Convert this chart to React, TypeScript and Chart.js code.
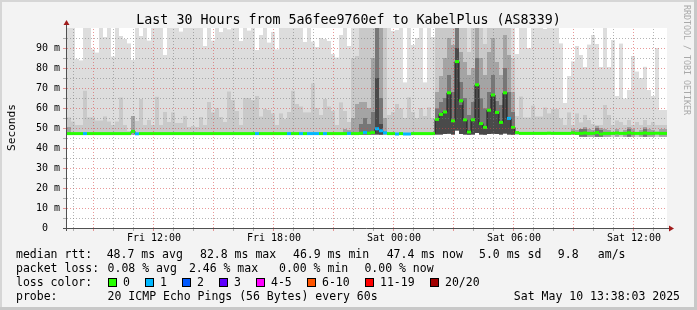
import React, { useEffect, useRef } from 'react';
import { Chart, registerables } from 'chart.js';

Chart.register(...registerables);

// ---------- time axis ----------
const START_HOUR = 7.7; // plot starts Fri 07:42 (hour of day)
const HOURS = 30;
const STEP = 0.2; // 12-minute consolidation step (150 steps)

const xTickHours = [4.3, 10.3, 16.3, 22.3, 28.3];
const xTickLabels = ['Fri 12:00', 'Fri 18:00', 'Sat 00:00', 'Sat 06:00', 'Sat 12:00'];

const yTickValues = [0, 10, 20, 30, 40, 50, 60, 70, 80, 90];
const yTickLabels = ['0', '10 m', '20 m', '30 m', '40 m', '50 m', '60 m', '70 m', '80 m', '90 m'];

// ---------- data (ms) ----------
// highest ping per step (outer, lightest smoke)
const pingMax = [
  100, 100, 84.5, 83.8, 100, 100, 89.3, 87.7, 100, 95.5,
  100, 85.7, 100, 96, 94.5, 92.3, 84, 100, 96, 100,
  93.7, 100, 100, 100, 86.5, 100, 100, 100, 98.2, 100,
  100, 100, 100, 100, 91, 100, 93.7, 100, 98, 100,
  99.3, 100, 100, 93.5, 100, 98.7, 100, 89, 96.5, 100,
  92.7, 98, 89.3, 100, 100, 100, 100, 100, 100, 93,
  100, 93.2, 90.5, 95, 94.5, 93.5, 87, 85.2, 96.5, 100,
  91, 100, 100, 100, 100, 100, 100, 100, 100, 100,
  100, 98.5, 99, 100, 72.8, 100, 91.5, 95, 100, 72.8,
  100, 95.5, 100, 100, 100, 100, 100, 100, 100, 100,
  100, 100, 100, 100, 100, 100, 100, 100, 100, 100,
  100, 100, 87, 100, 100, 90, 100, 100, 100, 99.5,
  100, 100, 100, 92.3, 62.5, 76, 83.3, 91, 86.5, 80.5,
  91.7, 96.5, 92, 80.5, 100, 80.5, 94, 66, 92.2, 64.7,
  69, 86, 78.2, 75, 80.6, 69, 66, 90, 59, 59,
];

// second smoke band
const smokeHigh = [
  55.3, 53.2, 51.5, 51.5, 68.6, 55.3, 55.3, 53.7, 53.7, 55.8,
  53.2, 51.5, 53.2, 65.2, 51.5, 48.5, 56, 53.5, 64.5, 51.5,
  54, 51.5, 65.6, 51.5, 58, 53, 57.8, 52.5, 52.5, 56,
  50.5, 51, 50.5, 55.5, 51.5, 63, 57.8, 60, 55.5, 53,
  68.2, 64, 58.5, 51.5, 65, 65, 64, 66, 55.7, 59.5,
  59, 57.3, 51.5, 57.3, 54.5, 58, 68.6, 62, 60.7, 57.8,
  57.8, 72.3, 60, 56.5, 64.5, 60.7, 58.5, 51.5, 62.8, 58.5,
  53, 85, 86, 100, 100, 100, 100, 100, 100, 100,
  56.5, 58, 62, 59.8, 55, 65.3, 58, 55, 60, 56,
  60.3, 55, 100, 100, 100, 100, 100, 100, 100, 100,
  88, 100, 100, 100, 92, 100, 100, 100, 100, 100,
  100, 85, 56, 65.7, 55.2, 55.2, 61.2, 55.7, 55.7, 60.2,
  57.3, 59.5, 59.5, 54.8, 51.5, 57.8, 51.5, 57.3, 52.8, 56.5,
  54, 52, 51.5, 51.5, 61.5, 56.5, 51.5, 53.8, 53, 51.5,
  54, 51.5, 53, 51.5, 54, 51.5, 53, 51.5, 51.5, 51.5,
];

const N = null;
// third smoke band
const smokeMid = [
  50.5, N, N, N, N, N, N, N, N, N,
  N, N, N, N, N, N, 56, N, N, N,
  N, N, N, N, N, N, N, N, N, N,
  N, N, N, N, N, N, N, N, N, N,
  N, N, N, N, N, N, N, N, N, N,
  N, N, N, N, N, N, N, N, N, N,
  N, N, N, N, N, N, N, N, N, 49.5,
  49, 55, 62, 63, 63, 60, 85, 100, 100, 55,
  N, N, N, N, N, N, N, N, N, N,
  N, N, 68, 76, 85, 95, 91.5, 100, 88, 83,
  76.5, 80, 100, 85, 76.5, 88, 95, 83, 76.5, 96.5,
  86.5, 68, N, N, N, N, N, N, N, N,
  N, N, N, N, N, N, 49.5, 49, N, 50.5,
  49.5, 49, 51, 50, 49.5, 49, N, 49.5, N, 49,
  50.5, 49.5, N, 49, 50.5, 49.5, 49, N, 49.5, 49.5,
];

// fourth smoke band
const smokeInner = [
  N, N, N, N, N, N, N, N, N, N,
  N, N, N, N, N, N, N, N, N, N,
  N, N, N, N, N, N, N, N, N, N,
  N, N, N, N, N, N, N, N, N, N,
  N, N, N, N, N, N, N, N, N, N,
  N, N, N, N, N, N, N, N, N, N,
  N, N, N, N, N, N, N, N, N, N,
  N, N, N, 52, 55, 52, 58, 100, 65, N,
  N, N, N, N, N, N, N, N, N, N,
  N, N, 59.8, 63, 65, 76.5, 68, 100, 73, 65,
  56.5, 63, 85, 64.8, 59.8, 68, 76.5, 63.5, 61.5, 80,
  68, 58, N, N, N, N, N, N, N, N,
  N, N, N, N, N, N, N, N, 49.5, 49.5,
  N, N, 50, 49, N, N, N, N, N, N,
  49.5, N, N, N, 49.5, N, N, N, N, N,
];

// innermost smoke band
const smokeCore = [
  N, N, N, N, N, N, N, N, N, N,
  N, N, N, N, N, N, N, N, N, N,
  N, N, N, N, N, N, N, N, N, N,
  N, N, N, N, N, N, N, N, N, N,
  N, N, N, N, N, N, N, N, N, N,
  N, N, N, N, N, N, N, N, N, N,
  N, N, N, N, N, N, N, N, N, N,
  N, N, N, N, N, N, N, 75, 52, N,
  N, N, N, N, N, N, N, N, N, N,
  N, N, 54, 57.5, 58.5, 67.5, 54, 90, 61.5, 53.5,
  49, 54, 71, 52.5, 50.7, 59, 67, 58, 53.5, 68,
  55, 50.7, N, N, N, N, N, N, N, N,
  N, N, N, N, N, N, N, N, N, N,
  N, N, N, N, N, N, N, N, N, N,
  N, N, N, N, N, N, N, N, N, N,
];

// lowest ping per step
const pingMin = [
  46.6, 46.6, 46.6, 46.6, 46.6, 46.6, 46.6, 46.6, 46.6, 46.6,
  46.6, 46.6, 46.6, 46.6, 46.6, 46.6, 46.6, 46.6, 46.6, 46.6,
  46.6, 46.6, 46.6, 46.6, 46.6, 46.6, 46.6, 46.6, 46.6, 46.6,
  46.6, 46.6, 46.6, 46.6, 46.6, 46.6, 46.6, 46.6, 46.6, 46.6,
  46.6, 46.6, 46.6, 46.6, 46.6, 46.6, 46.6, 46.6, 46.6, 46.6,
  46.6, 46.6, 46.6, 46.6, 46.6, 46.6, 46.6, 46.6, 46.6, 46.6,
  46.6, 46.6, 46.6, 46.6, 46.6, 46.6, 46.6, 46.6, 46.6, 46.6,
  46.6, 46.6, 46.6, 46.6, 46.6, 46.6, 46.6, 46.8, 46.7, 46.6,
  46.6, 46.6, 46.6, 46.6, 46.6, 46.6, 46.6, 46.6, 46.6, 46.6,
  46.6, 46.6, 46.8, 46.8, 47, 47.2, 46.8, 48.8, 47, 46.8,
  46.7, 46.8, 47.5, 46.8, 46.7, 47, 47.2, 47, 46.8, 47.3,
  46.8, 46.7, 46.6, 46.6, 46.6, 46.6, 46.6, 46.6, 46.6, 46.6,
  46.6, 46.6, 46.6, 46.6, 46.6, 46.6, 46.6, 46.6, 45.6, 45.6,
  45.6, 45.6, 45.6, 45.6, 45.6, 45.6, 45.6, 45.6, 45.6, 45.6,
  45.6, 45.6, 45.6, 45.6, 45.6, 45.6, 45.6, 45.6, 45.6, 45.6,
];

// median rtt per step
const medianRtt = [
  47.2, 47.2, 47.2, 47.2, 47.2, 47.2, 47.2, 47.2, 47.2, 47.2,
  47.2, 47.2, 47.2, 47.2, 47.2, 47.2, 48.3, 47.1, 47.2, 47.2,
  47.2, 47.2, 47.2, 47.2, 47.2, 47.2, 47.2, 47.2, 47.2, 47.2,
  47.2, 47.2, 47.2, 47.2, 47.2, 47.2, 47.2, 47.2, 47.2, 47.2,
  47.2, 47.2, 47.2, 47.2, 47.2, 47.2, 47.2, 47.2, 47.2, 47.2,
  47.2, 47.2, 47.2, 47.2, 47.2, 47.2, 47.2, 47.2, 47.2, 47.2,
  47.2, 47.2, 47.2, 47.2, 47.2, 47.2, 47.2, 47.2, 47.2, 47.2,
  47.3, 47.2, 47.2, 47.4, 47.8, 47.4, 47.8, 49.6, 48.6, 47.6,
  47.2, 47.2, 47.0, 47.2, 47.0, 47.0, 47.2, 47.2, 47.2, 47.2,
  47.2, 47.2, 54.3, 56.8, 58, 67.6, 53.6, 83.2, 63.6, 54.1,
  48, 54.1, 71.6, 52.2, 50.3, 58.9, 66.5, 57.8, 52.8, 67.6,
  54.8, 50.3, 47.7, 47.3, 47.3, 47.3, 47.3, 47.3, 47.3, 47.3,
  47.4, 47.3, 47.3, 47.3, 47.3, 47.3, 47.6, 47.3, 47.3, 47.5,
  47.3, 47.3, 47.7, 47.0, 47.3, 47.3, 47.3, 47.5, 47.3, 47.3,
  47.6, 47.3, 47.3, 47.3, 47.5, 47.3, 47.3, 47.4, 47.3, 47.3,
];

// lost pings (of 20) per step
const lossCount = [
  0, 0, 0, 0, 1, 0, 0, 0, 0, 0,
  0, 0, 0, 0, 0, 0, 0, 1, 0, 0,
  0, 0, 0, 0, 0, 0, 0, 0, 0, 0,
  0, 0, 0, 0, 0, 0, 0, 0, 0, 0,
  0, 0, 0, 0, 0, 0, 0, 1, 0, 0,
  0, 0, 0, 0, 0, 1, 0, 0, 1, 0,
  1, 1, 1, 0, 1, 0, 0, 0, 0, 0,
  1, 0, 0, 0, 1, 0, 0, 1, 1, 1,
  0, 0, 1, 0, 1, 1, 0, 0, 0, 0,
  0, 0, 0, 0, 0, 0, 0, 0, 0, 0,
  0, 0, 0, 0, 0, 0, 0, 0, 0, 0,
  1, 0, 0, 0, 0, 0, 0, 0, 0, 0,
  0, 0, 0, 0, 0, 0, 0, 0, 0, 0,
  0, 0, 0, 0, 0, 0, 0, 0, 0, 0,
  0, 0, 0, 0, 0, 0, 0, 0, 0, 0,
];

const LOSS_COLORS = ['#26ff00', '#00b8ff', '#0059ff', '#5e00ff', '#ff00ff', '#ff5500', '#ff0000', '#a10000'];
const LOSS_LABELS = ['0', '1', '2', '3', '4-5', '6-10', '11-19', '20/20'];

const TITLE = 'Last 30 Hours from 5a6fee9760ef to KabelPlus (AS8339)';
const rttStats = ['48.7 ms avg', '82.8 ms max', '46.9 ms min', '47.4 ms now', '5.0 ms sd', '9.8', 'am/s'];
const lossStats = ['0.08 % avg', '2.46 % max', '0.00 % min', '0.00 % now'];
const PROBE = '20 ICMP Echo Pings (56 Bytes) every 60s';
const STAMP = 'Sat May 10 13:38:03 2025';

// ---------- helpers ----------
const FAMILY = '"DejaVu Sans Mono", "Liberation Mono", monospace';
const font = (px: number) => `${px}px ${FAMILY}`;
const T = (i: number) => i * STEP + STEP / 2;
const lossIndex = (n: number) => (n <= 3 ? n : n <= 5 ? 4 : n <= 10 ? 5 : n <= 19 ? 6 : 7);

function band(top: (number | null)[]) {
  const out: { x: number; y: [number, number] }[] = [];
  top.forEach((v, i) => {
    if (v != null) out.push({ x: T(i), y: [pingMin[i], v] });
  });
  return out;
}

const GRID_MINOR = 'rgba(120,120,120,0.55)';
const GRID_MAJOR = 'rgba(215,70,70,0.55)';
const ARROW = '#a01c1c';

const decor = {
  id: 'smokeDecor',
  beforeDraw(chart: any) {
    const { ctx, chartArea: a, width, height } = chart;
    ctx.save();
    ctx.fillStyle = '#f3f3f3';
    ctx.fillRect(0, 0, width, height);
    ctx.fillStyle = '#d6d6d6';
    ctx.fillRect(0, 0, width, 2);
    ctx.fillRect(0, 0, 2, height);
    ctx.fillStyle = '#c8c8c8';
    ctx.fillRect(0, height - 3, width, 3);
    ctx.fillRect(width - 3, 0, 3, height);
    ctx.fillStyle = '#ffffff';
    ctx.fillRect(a.left, a.top, a.right - a.left, a.bottom - a.top);
    ctx.restore();
  },
  afterDatasetsDraw(chart: any) {
    const { ctx, chartArea: a } = chart;
    const xs = chart.scales.x;
    const ys = chart.scales.y;
    ctx.save();
    ctx.lineWidth = 1;
    // horizontal grid
    for (let v = 5; v < 100; v += 5) {
      const y = Math.round(ys.getPixelForValue(v)) + 0.5;
      const major = v % 10 === 0;
      ctx.strokeStyle = major ? GRID_MAJOR : GRID_MINOR;
      ctx.setLineDash([1, 2]);
      ctx.beginPath();
      ctx.moveTo(a.left, y);
      ctx.lineTo(a.right, y);
      ctx.stroke();
      ctx.setLineDash([]);
      ctx.beginPath();
      ctx.moveTo(63, y);
      ctx.lineTo(66, y);
      ctx.stroke();
    }
    // vertical grid (every hour, major every 3 hours)
    for (let t = Math.ceil(START_HOUR) - START_HOUR; t < HOURS; t += 1) {
      const hod = Math.round(START_HOUR + t) % 24;
      const major = hod % 3 === 0;
      const x = Math.round(xs.getPixelForValue(t)) + 0.5;
      ctx.strokeStyle = major ? GRID_MAJOR : GRID_MINOR;
      ctx.setLineDash([1, 2]);
      ctx.beginPath();
      ctx.moveTo(x, a.bottom);
      ctx.lineTo(x, a.top);
      ctx.stroke();
      ctx.setLineDash([]);
      ctx.beginPath();
      ctx.moveTo(x, a.bottom + 1);
      ctx.lineTo(x, a.bottom + 3);
      ctx.stroke();
    }
    // axes
    ctx.strokeStyle = '#505050';
    ctx.beginPath();
    ctx.moveTo(63, a.bottom + 0.5);
    ctx.lineTo(a.right + 3, a.bottom + 0.5);
    ctx.moveTo(a.left - 0.5, a.bottom + 3);
    ctx.lineTo(a.left - 0.5, a.top - 4);
    ctx.stroke();
    ctx.fillStyle = ARROW;
    ctx.beginPath();
    ctx.moveTo(a.right + 2, a.bottom - 2.5);
    ctx.lineTo(a.right + 7, a.bottom + 0.5);
    ctx.lineTo(a.right + 2, a.bottom + 3.5);
    ctx.closePath();
    ctx.fill();
    ctx.beginPath();
    ctx.moveTo(a.left - 3.5, a.top - 3);
    ctx.lineTo(a.left - 0.5, a.top - 8);
    ctx.lineTo(a.left + 2.5, a.top - 3);
    ctx.closePath();
    ctx.fill();
    ctx.restore();
  },
  afterDraw(chart: any) {
    const { ctx } = chart;
    const xs = chart.scales.x;
    const ys = chart.scales.y;
    ctx.save();
    ctx.fillStyle = '#000';
    // title
    ctx.font = font(13.3);
    ctx.textAlign = 'center';
    ctx.textBaseline = 'alphabetic';
    ctx.fillText(TITLE, 348.5, 24);
    // y tick labels
    ctx.font = font(10);
    ctx.textAlign = 'right';
    ctx.textBaseline = 'middle';
    yTickValues.forEach((v, k) => {
      const lab = yTickLabels[k];
      ctx.fillText(lab, lab.includes('m') ? 60 : 48, ys.getPixelForValue(v));
    });
    // x tick labels
    ctx.textAlign = 'center';
    ctx.textBaseline = 'alphabetic';
    xTickHours.forEach((h, k) => {
      ctx.fillText(xTickLabels[k], Math.round(xs.getPixelForValue(h)) + 1, 241);
    });
    // y axis title
    ctx.save();
    ctx.font = font(11.2);
    ctx.translate(15, 127.5);
    ctx.rotate(-Math.PI / 2);
    ctx.textAlign = 'center';
    ctx.fillText('Seconds', 0, 0);
    ctx.restore();
    // side watermark
    ctx.save();
    ctx.font = font(8.3);
    ctx.fillStyle = '#a9a9a9';
    ctx.translate(684, 5);
    ctx.rotate(Math.PI / 2);
    ctx.textAlign = 'left';
    ctx.fillText('RRDTOOL / TOBI OETIKER', 0, 0);
    ctx.restore();
    // legend
    ctx.font = font(11.5);
    ctx.textAlign = 'left';
    ctx.textBaseline = 'alphabetic';
    ctx.fillText('median rtt:', 16, 258);
    const rttX = [106.7, 200, 293, 386.7, 479, 557.8, 597.8];
    rttStats.forEach((s, k) => ctx.fillText(s, rttX[k], 258));
    ctx.fillText('packet loss:', 16, 272);
    const lossX = [107.6, 188.9, 279, 364.4];
    lossStats.forEach((s, k) => ctx.fillText(s, lossX[k], 272));
    ctx.fillText('loss color:', 16, 286);
    const boxX = [108, 145, 182, 219, 256, 307, 365, 430];
    LOSS_LABELS.forEach((lab, k) => {
      ctx.fillStyle = '#000';
      ctx.fillRect(boxX[k], 278, 9, 9);
      ctx.fillStyle = LOSS_COLORS[k];
      ctx.fillRect(boxX[k] + 1, 279, 7, 7);
      ctx.fillStyle = '#000';
      ctx.fillText(lab, boxX[k] + 15, 286);
    });
    ctx.fillText('probe:', 16, 300);
    ctx.fillText(PROBE, 107.6, 300);
    ctx.textAlign = 'right';
    ctx.fillText(STAMP, 680, 300);
    ctx.restore();
  },
};

export default function App() {
  const ref = useRef<HTMLCanvasElement | null>(null);

  useEffect(() => {
    document.body.style.margin = '0';
    const canvas = ref.current;
    if (!canvas) return;
    const common = {
      type: 'bar' as const,
      grouped: false,
      barThickness: 4,
      borderWidth: 0,
      inflateAmount: 0,
    };
    const chart = new Chart(canvas, {
      type: 'bar',
      data: {
        datasets: [
          {
            ...common,
            label: 'median',
            data: medianRtt.map((m, i) => ({ x: T(i), y: [m - 0.75, m + 0.75] })),
            backgroundColor: (c: any) => LOSS_COLORS[lossIndex(lossCount[c.dataIndex] ?? 0)],
            order: 0,
          },
          {
            type: 'line',
            label: 'median step',
            data: medianRtt.map((m, i) => ({ x: T(i), y: m })),
            stepped: 'middle',
            borderColor: '#1c1c1c',
            borderWidth: 1,
            pointRadius: 0,
            fill: false,
            order: 1,
          },
          { ...common, label: 'core', data: band(smokeCore), backgroundColor: '#4a4a4a', order: 2 },
          { ...common, label: 'inner', data: band(smokeInner), backgroundColor: '#767676', order: 3 },
          { ...common, label: 'mid', data: band(smokeMid), backgroundColor: '#a4a4a4', order: 4 },
          { ...common, label: 'high', data: band(smokeHigh), backgroundColor: '#c9c9c9', order: 5 },
          { ...common, label: 'max', data: band(pingMax), backgroundColor: '#dddddd', order: 6 },
        ] as any,
      },
      options: {
        responsive: false,
        animation: false,
        devicePixelRatio: 1,
        events: [],
        layout: { padding: { left: 67, right: 30, top: 28, bottom: 82 } },
        scales: {
          x: { type: 'linear', min: 0, max: HOURS, offset: false, display: false },
          y: { type: 'linear', min: 0, max: 100, display: false },
        },
        plugins: { legend: { display: false }, tooltip: { enabled: false }, title: { display: false } },
      } as any,
      plugins: [decor],
    });
    return () => chart.destroy();
  }, []);

  return (
    <div style={{ position: 'absolute', left: 0, top: 0, width: 697, height: 310 }}>
      <canvas ref={ref} width={697} height={310} style={{ display: 'block', width: 697, height: 310 }} />
    </div>
  );
}
